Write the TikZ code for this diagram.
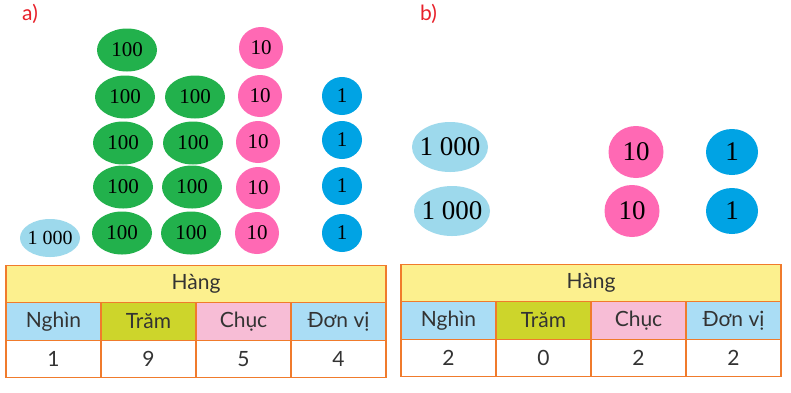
\documentclass[tikz,border=0pt]{standalone}
\usepackage{fontspec}
\setmainfont{Lato}
\newfontfamily\numfont{Liberation Serif}
\usetikzlibrary{shapes.geometric}
\definecolor{ggreen}{HTML}{22B14C}
\definecolor{gpink}{HTML}{FF69B4}
\definecolor{gblue}{HTML}{00A3E4}
\definecolor{glight}{HTML}{9DD9EC}
\definecolor{tborder}{HTML}{F07B2C}
\definecolor{thead}{HTML}{FCF08E}
\definecolor{tblue}{HTML}{AADDF5}
\definecolor{tlime}{HTML}{CDD52B}
\definecolor{tpink}{HTML}{F7BDD6}
\definecolor{tgray}{HTML}{333333}
\definecolor{lred}{HTML}{E8202A}
\newcommand{\tok}[1]{\makebox[0pt]{#1}}
\tikzset{
  token/.style={ellipse, inner sep=0pt, text=black},
  hund/.style={token, fill=ggreen, minimum width=60pt, minimum height=43pt, font=\numfont\fontsize{21}{21}\selectfont},
  tena/.style={token, fill=gpink, minimum width=44pt, minimum height=42pt, font=\numfont\fontsize{21}{21}\selectfont},
  onea/.style={token, fill=gblue, minimum width=40pt, minimum height=38pt, font=\numfont\fontsize{21}{21}\selectfont},
  thoua/.style={token, fill=glight, minimum width=60pt, minimum height=38pt, font=\numfont\fontsize{20}{20}\selectfont},
  thoub/.style={token, fill=glight, minimum width=76pt, minimum height=50pt, font=\numfont\fontsize{27}{27}\selectfont},
  tenb/.style={token, fill=gpink, minimum width=55pt, minimum height=52pt, font=\numfont\fontsize{27}{27}\selectfont},
  oneb/.style={token, fill=gblue, minimum width=52pt, minimum height=46pt, font=\numfont\fontsize{27}{27}\selectfont},
  cell/.style={draw=tborder, line width=1.4pt, minimum width=95pt, minimum height=37.5pt, inner sep=0pt, text=tgray, font=\fontsize{21}{21}\selectfont},
  headcell/.style={cell, fill=thead, minimum width=380pt},
  partlabel/.style={text=lred, font=\fontsize{21}{21}\selectfont, anchor=west, inner sep=0pt}
}
\begin{document}
\begin{tikzpicture}[x=1pt,y=-1pt]
\useasboundingbox[fill=white] (0,0) rectangle (791,392);
% labels
\node[partlabel] (la) at (22,14) {a)};
\node[partlabel] (lb) at (420,14) {b)};
% part a tokens
\node[hund] (h1) at (127,50) {\tok{100}};
\node[hund] (h2) at (125,97) {\tok{100}};
\node[hund] (h3) at (123,143) {\tok{100}};
\node[hund] (h4) at (123,187) {\tok{100}};
\node[hund] (h5) at (122,233) {\tok{100}};
\node[hund] (h6) at (195,97) {\tok{100}};
\node[hund] (h7) at (193,143) {\tok{100}};
\node[hund] (h8) at (192,187) {\tok{100}};
\node[hund] (h9) at (191,233) {\tok{100}};
\node[tena] (t1) at (261,48) {\tok{10}};
\node[tena] (t2) at (260,96) {\tok{10}};
\node[tena] (t3) at (258,142) {\tok{10}};
\node[tena] (t4) at (258,188) {\tok{10}};
\node[tena] (t5) at (257,233) {\tok{10}};
\node[onea] (o1) at (342,96) {\tok{1}};
\node[onea] (o2) at (342,140) {\tok{1}};
\node[onea] (o3) at (342,186) {\tok{1}};
\node[onea] (o4) at (342,233) {\tok{1}};
\node[thoua] (k1) at (50,238) {\tok{1 000}};
% part b tokens
\node[thoub] (bk1) at (450,147) {\tok{1 000}};
\node[thoub] (bk2) at (452,211) {\tok{1 000}};
\node[tenb] (bt1) at (636,152) {\tok{10}};
\node[tenb] (bt2) at (632,211) {\tok{10}};
\node[oneb] (bo1) at (732,152) {\tok{1}};
\node[oneb] (bo2) at (732,211) {\tok{1}};
% table a
\begin{scope}[name prefix=a-]
\node[headcell] (head) at (196,284) {Hàng};
\node[cell, fill=tblue] (c1) at (53.5,321.5) {Nghìn};
\node[cell, fill=tlime] (c2) at (148.5,321.5) {Trăm};
\node[cell, fill=tpink] (c3) at (243.5,321.5) {Chục};
\node[cell, fill=tblue] (c4) at (338.5,321.5) {Đơn vị};
\node[cell, fill=white] (d1) at (53.5,359) {1};
\node[cell, fill=white] (d2) at (148.5,359) {9};
\node[cell, fill=white] (d3) at (243.5,359) {5};
\node[cell, fill=white] (d4) at (338.5,359) {4};
\end{scope}
% table b
\begin{scope}[name prefix=b-]
\node[headcell] (head) at (591,283) {Hàng};
\node[cell, fill=tblue] (c1) at (448.5,320.5) {Nghìn};
\node[cell, fill=tlime] (c2) at (543.5,320.5) {Trăm};
\node[cell, fill=tpink] (c3) at (638.5,320.5) {Chục};
\node[cell, fill=tblue] (c4) at (733.5,320.5) {Đơn vị};
\node[cell, fill=white] (d1) at (448.5,358) {2};
\node[cell, fill=white] (d2) at (543.5,358) {0};
\node[cell, fill=white] (d3) at (638.5,358) {2};
\node[cell, fill=white] (d4) at (733.5,358) {2};
\end{scope}
\end{tikzpicture}
\end{document}
